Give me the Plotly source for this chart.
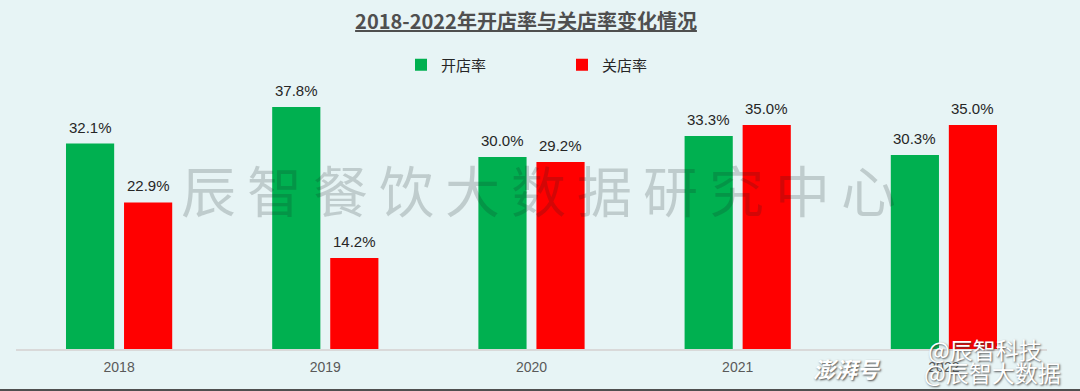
import plotly.graph_objects as go

years = ["2018", "2019", "2020", "2021", "2022"]
open_rate = [32.1, 37.8, 30.0, 33.3, 30.3]
close_rate = [22.9, 14.2, 29.2, 35.0, 35.0]
series_names = ["开店率", "关店率"]

GREEN = "#00B050"
RED = "#FF0000"
BG = "#E7F4F5"
CJK = "Noto Sans CJK SC"
LAT = "Liberation Sans, Arial"

W, H = 1080, 391
ML, MR, MT, MB = 16, 33, 93, 42
PW, PH = W - ML - MR, H - MT - MB


def px_to_paper(px, py):
    return (px - ML) / PW, (H - MB - py) / PH


fig = go.Figure()
fig.add_trace(go.Bar(x=years, y=open_rate, name=series_names[0], marker_color=GREEN,
                     marker_line_width=0))
fig.add_trace(go.Bar(x=years, y=close_rate, name=series_names[1], marker_color=RED,
                     marker_line_width=0))

annotations = []
for vals, shift in ((open_rate, -29), (close_rate, 29)):
    for i, v in enumerate(vals):
        annotations.append(dict(x=i, y=v, xref="x", yref="y", text=f"{v:.1f}%",
                                showarrow=False, xshift=shift, yshift=6, yanchor="bottom",
                                font=dict(family=LAT, size=15, color="#262626")))

# central watermark
wm = "\u2009".join("辰智餐饮大数据研究中心")
wx, wy = px_to_paper(538, 188)
annotations.append(dict(x=wx, y=wy, xref="paper", yref="paper",
                        text=wm, showarrow=False, xanchor="center", yanchor="middle",
                        font=dict(family=CJK, size=55, color="rgba(20,30,30,0.19)")))
# bottom-right platform watermark
shadow = "1px 1px 2px rgba(60,60,60,0.9)"
for text, cx, cy, size in (("@辰智科技", 985, 349, 23),
                           ("@辰智大数据", 992, 372, 23),
                           ("<b><i>澎湃号</i></b>", 847, 368, 22)):
    ax_, ay_ = px_to_paper(cx, cy)
    annotations.append(dict(x=ax_, y=ay_, xref="paper", yref="paper", text=text,
                            showarrow=False, xanchor="center", yanchor="middle",
                            font=dict(family=CJK, size=size, color="white", shadow=shadow)))

lx, ly = px_to_paper(401, 65)
fig.update_layout(
    width=W, height=H,
    margin=dict(l=ML, r=MR, t=MT, b=MB),
    paper_bgcolor=BG, plot_bgcolor=BG,
    barmode="group", bargap=0.437, bargroupgap=0.17,
    title=dict(text="<b><u>2018-2022年开店率与关店率变化情况</u></b>",
               x=526 / W, xanchor="center", y=1 - 22 / H, yanchor="middle",
               xref="container", yref="container",
               font=dict(family=CJK, size=20, color="#4F4F4F")),
    legend=dict(orientation="h", x=lx, xanchor="left",
                y=ly, yanchor="middle", entrywidth=116,
                font=dict(family=CJK, size=15, color="#262626"),
                bgcolor="rgba(0,0,0,0)"),
    xaxis=dict(type="category", showline=True, linecolor="#D9D9D9", linewidth=2, ticks="",
               tickfont=dict(family=LAT, size=14, color="#595959"), ticklabelstandoff=4,
               showgrid=False, fixedrange=True),
    yaxis=dict(range=[0, 40], visible=False, showgrid=False, fixedrange=True),
    annotations=annotations,
    shapes=[dict(type="rect", xref="paper", yref="paper", xsizemode="pixel",
                 ysizemode="pixel", xanchor=0, yanchor=0, x0=-ML, x1=PW + MR, y0=-MB,
                 y1=-MB + 2, fillcolor="#4F4F4F", line_width=0, layer="above")],
    showlegend=True,
)

fig.write_html("out.html", config={"displayModeBar": False},
               post_script="document.body.style.margin='0';"
                           "document.body.style.overflow='hidden';")
